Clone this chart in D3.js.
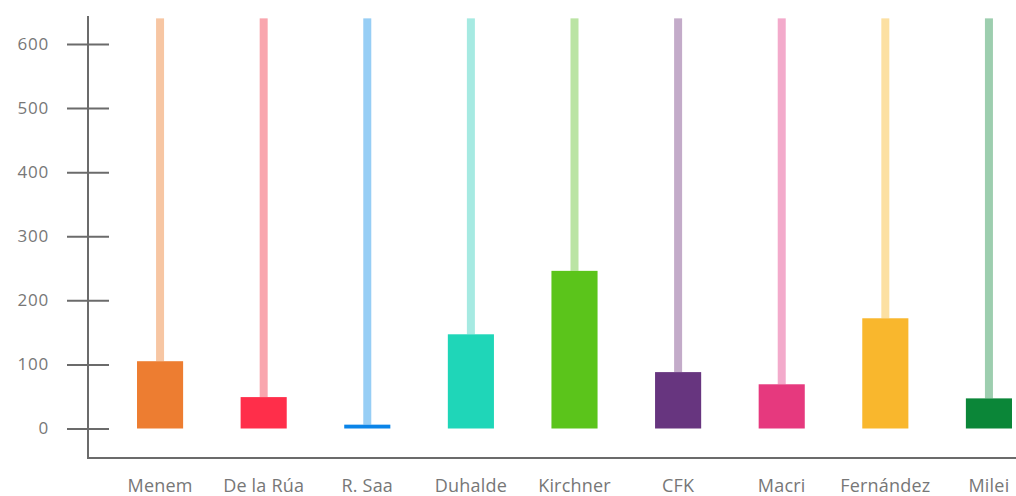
<!DOCTYPE html>
<html><head><meta charset="utf-8">
<script src="https://cdn.jsdelivr.net/npm/d3@7"></script>
<style>body{margin:0;background:#fff}svg{display:block}text{font-family:"Open Sans",Lato,sans-serif;font-weight:400}</style>
</head><body>
<svg id="c" width="1016" height="496"></svg>
<script>
const categories = ["Menem","De la Rúa","R. Saa","Duhalde","Kirchner","CFK","Macri","Fernández","Milei"];
const values = [105, 49, 6, 147, 246, 88, 69, 172, 47];
const backgroundMax = 640;
const barColors = ["#ED7D31","#FF2E4A","#0A84E8","#1FD6B8","#5BC41B","#67357F","#E6397E","#F9B72D","#0B8638"];
const bgColors = ["#F7C6A3","#F9A6AE","#97CEF5","#A6EAE2","#BBE4A4","#C3ABC9","#F3AACB","#FCE0A2","#9DCEAF"];
const yTicks = [0,100,200,300,400,500,600];

const svg = d3.select("#c");
const y = d3.scaleLinear().domain([0,600]).range([428.5,44]);
const x = d3.scaleBand().domain(categories).range([108,1041]).paddingInner(0.555).paddingOuter(0.28);

svg.append("line").attr("x1",88).attr("x2",88).attr("y1",16).attr("y2",459).attr("stroke","#6b6b6b").attr("stroke-width",2);
svg.append("line").attr("x1",87).attr("x2",1016).attr("y1",458).attr("y2",458).attr("stroke","#6b6b6b").attr("stroke-width",2);

const yAxis = svg.append("g").attr("transform","translate(109,0)")
  .call(d3.axisLeft(y).tickValues(yTicks).tickSize(42).tickPadding(18));
yAxis.select(".domain").remove();
yAxis.selectAll(".tick line").attr("stroke","#6b6b6b").attr("stroke-width",2);
yAxis.selectAll(".tick text").attr("fill","#777")
  .style("font-size","17px").style("font-family","'Open Sans',Lato,sans-serif").style("font-weight","400").style("letter-spacing","0.8px");

const bw = 8;
svg.append("g").selectAll("rect").data(categories).join("rect")
  .attr("x",d=>x(d)+x.bandwidth()/2-bw/2).attr("width",bw)
  .attr("y",y(backgroundMax)).attr("height",(d,i)=>y(values[i])-y(backgroundMax))
  .attr("fill",(d,i)=>bgColors[i]);

svg.append("g").selectAll("rect").data(categories).join("rect")
  .attr("x",d=>x(d)).attr("width",x.bandwidth())
  .attr("y",(d,i)=>y(values[i])).attr("height",(d,i)=>y(0)-y(values[i]))
  .attr("fill",(d,i)=>barColors[i]);

svg.append("g").selectAll("text").data(categories).join("text")
  .attr("x",d=>x(d)+x.bandwidth()/2).attr("y",492)
  .attr("text-anchor","middle").attr("fill","#777").style("font-size","18px").style("letter-spacing","0.2px")
  .text(d=>d);
</script>
</body></html>
